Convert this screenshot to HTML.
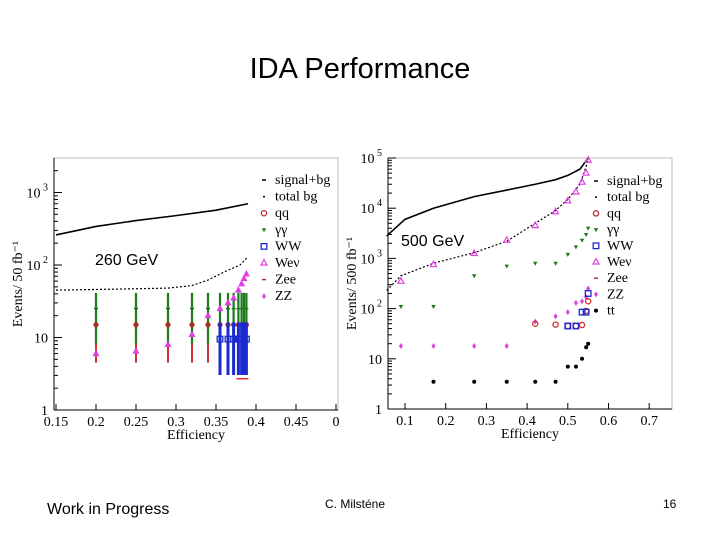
<!DOCTYPE html>
<html><head><meta charset="utf-8"><style>
body{margin:0;background:#fff;}
svg text{font-family:"Liberation Serif",serif;}
</style></head><body>
<svg width="720" height="540" viewBox="0 0 720 540" xmlns="http://www.w3.org/2000/svg">
<text x="360" y="78" text-anchor="middle" font-size="29" style="font-family:'Liberation Sans',sans-serif">IDA Performance</text>
<g id="left"></g>
<g id="right"></g>
<text x="47" y="514" font-size="16" style="font-family:'Liberation Sans',sans-serif">Work in Progress</text>
<text x="325" y="508" font-size="12" style="font-family:'Liberation Sans',sans-serif">C. Milsténe</text>
<text x="663" y="508" font-size="12" style="font-family:'Liberation Sans',sans-serif">16</text>
</svg>
<script>
// ---- 260 GeV data ----
const effL = [0.2,0.25,0.29,0.32,0.34,0.355,0.365,0.372,0.378,0.382,0.385,0.388];
const qqL = [15,15,15,15,15,15,15,15,15,15,15,15];
const ggL = [25,25,25,25,25,25,25,25,25,25,25,25];
const wevL = [6,6.5,8,11,20,25,30,35,45,55,65,75];
const wwEffL = [0.355,0.365,0.372,0.378,0.382,0.385,0.388];
const wwL = [9.5,9.5,9.5,9.5,9.5,9.5,9.5];
const zeeEffL = [0.378,0.382,0.385,0.388];
const zeeL = [2.7,2.7,2.7,2.7];
const sigEffL = [0.15,0.2,0.25,0.3,0.35,0.39];
const sigL = [260,340,410,480,570,700];
const bgEffL = [0.15,0.2,0.25,0.29,0.32,0.34,0.36,0.38,0.39];
const bgL = [45,46,47,48,52,62,80,100,130];
const xTicksL = [0.15,0.2,0.25,0.3,0.35,0.4,0.45,0.5];
const xTickLabelsL = ["0.15","0.2","0.25","0.3","0.35","0.4","0.45","0"];
// ---- 500 GeV data ----
const effR = [0.09,0.17,0.27,0.35,0.42,0.47,0.50,0.52,0.535,0.545,0.55];
const wevR = [350,750,1250,2300,4500,8500,14000,21000,33000,50000,90000];
const ggR = [110,110,450,700,800,800,1200,1700,2300,3000,4000];
const zzR = [18,18,18,18,55,70,85,130,140,170,250];
const ttEffR = [0.17,0.27,0.35,0.42,0.47,0.50,0.52,0.535,0.545,0.55];
const ttR = [3.5,3.5,3.5,3.5,3.5,7,7,10,17,20];
const qqEffR = [0.42,0.47,0.50,0.52,0.535,0.545,0.55];
const qqR = [50,48,45,45,47,90,140];
const wwEffR = [0.50,0.52,0.535,0.545,0.55];
const wwR = [45,45,85,85,200];
const sigEffR = [0.055,0.1,0.17,0.27,0.35,0.42,0.47,0.5,0.53,0.55];
const sigR = [2800,6000,10000,17000,23000,30000,37000,45000,60000,100000];
const bgEffR = [0.055,0.09,0.17,0.27,0.35,0.42,0.47,0.5,0.53,0.55];
const bgR = [230,450,800,1300,2200,5000,9000,15000,30000,90000];
const xTicksR = [0.1,0.2,0.3,0.4,0.5,0.6,0.7];
const xTickLabelsR = ["0.1","0.2","0.3","0.4","0.5","0.6","0.7"];

const NS="http://www.w3.org/2000/svg";
function mk(parent,tag,attrs,txt){const e=document.createElementNS(NS,tag);for(const k in attrs)e.setAttribute(k,attrs[k]);if(txt!==undefined)e.textContent=txt;parent.appendChild(e);return e;}

function axes(g,cfg){
  const {x0,x1,y0,y1,sx,sy,decades,yLab,xt,xtl}=cfg;
  let fr=mk(g,'rect',{x:x0,y:y0,width:x1-x0,height:y1-y0,fill:'none',stroke:'#bbb','stroke-width':1});
  
  
  mk(g,'line',{x1:x0,y1:y0,x2:x0,y2:y1,stroke:'#000','stroke-width':1});
  mk(g,'line',{x1:x0,y1:y1,x2:x1,y2:y1,stroke:'#000','stroke-width':1});
  xt.forEach((v,i)=>{const X=sx(v);
    mk(g,'line',{x1:X,y1:y1,x2:X,y2:y1-6,stroke:'#000'});
    const t=mk(g,'text',{x:X,y:y1+16,'text-anchor':'middle','font-size':14},xtl[i]);
    
    
  });
  for(let d=0;d<=decades;d++){
    for(let m=1;m<10;m++){const v=Math.pow(10,d)*m;const Y=sy(v);if(Y<y0)break;
      mk(g,'line',{x1:x0,y1:Y,x2:x0+(m==1?8:4),y2:Y,stroke:'#000'});}
    const Y=sy(Math.pow(10,d)); if(Y<y0-2)continue;
    const lab=d==0?'1':'10';
    const t=mk(g,'text',{x:x0-6,y:Y+5,'text-anchor':'end','font-size':14},lab);
    
    
    if(d>=2){mk(t,'tspan',{dy:-7,'font-size':10},' '+d);}
  }
  const xl=mk(g,'text',{x:(x0+x1)/2,y:y1+29,'text-anchor':'middle','font-size':14},'Efficiency');
  
  
  const yl=mk(g,'text',{x:0,y:0,'text-anchor':'middle','font-size':14,transform:`translate(${x0-32},${(y0+y1)/2}) rotate(-90)`},yLab);
  
  
}
function line(g,sx,sy,xs,ys,dash,name){
  const p=mk(g,'polyline',{points:xs.map((x,i)=>sx(x)+','+sy(ys[i])).join(' '),fill:'none',stroke:'#000','stroke-width':dash?1.2:1.6,'stroke-dasharray':dash?'2,2':'none'});
  
  
}
function marker(g,X,Y,type,color){
  if(type=='circle')return mk(g,'circle',{cx:X,cy:Y,r:2.6,fill:'none',stroke:color,'stroke-width':1.3});
  if(type=='dotc')return mk(g,'circle',{cx:X,cy:Y,r:2.6,fill:color});
  if(type=='tri')return mk(g,'polygon',{points:`${X},${Y-4} ${X-3.5},${Y+2.5} ${X+3.5},${Y+2.5}`,fill:color});
  if(type=='otri')return mk(g,'polygon',{points:`${X},${Y-3.5} ${X-3},${Y+2} ${X+3},${Y+2}`,fill:'none',stroke:color,'stroke-width':1.2});
  if(type=='dtri')return mk(g,'polygon',{points:`${X},${Y+2.5} ${X-2.2},${Y-1.5} ${X+2.2},${Y-1.5}`,fill:color});
  if(type=='sq')return mk(g,'rect',{x:X-2.8,y:Y-2.8,width:5.6,height:5.6,fill:'none',stroke:color,'stroke-width':1.3});
  if(type=='dot')return mk(g,'circle',{cx:X,cy:Y,r:2,fill:color});
  if(type=='zz')return mk(g,'polygon',{points:`${X},${Y-3} ${X-2},${Y} ${X},${Y+3} ${X+2},${Y}`,fill:color});
  if(type=='dash')return mk(g,'line',{x1:X-2,y1:Y,x2:X+2,y2:Y,stroke:color,'stroke-width':1.5});
  if(type=='none')return mk(g,'g',{});
}
function series(g,sx,sy,xs,ys,type,color,name,err){
  xs.forEach((x,i)=>{
    const X=sx(x),Y=sy(ys[i]);
    if(err){const e=mk(g,'line',{x1:X,y1:sy(ys[i]*err[0]),x2:X,y2:sy(ys[i]*err[1]),stroke:color,'stroke-width':err[2]});
      
      }
    const m=marker(g,X,Y,type,color);
    
    
  });
}
function legend(g,x,y,dy,items){
  items.forEach((it,i)=>{
    const Y=y+i*dy;
    if(it[1]=='solid'){mk(g,'line',{x1:x,y1:Y-4,x2:x+4,y2:Y-4,stroke:'#000','stroke-width':1.5});}
    else if(it[1]=='dashd'){mk(g,'line',{x1:x+1,y1:Y-4,x2:x+3,y2:Y-4,stroke:'#000','stroke-width':1.5});}
    else marker(g,x+2,Y-4,it[1],it[2]);
    const t=mk(g,'text',{x:x+13,y:Y,'font-size':14},it[0]);
    
    
  });
}

// Left chart
(function(){
  const g=document.getElementById('left');
  const x0=54,x1=338,y0=158,y1=410;
  const sx=e=>56+(e-0.15)*800;
  const sy=v=>410-Math.log10(v)*72.5;
  axes(g,{x0,x1,y0,y1,sx,sy,decades:3,yLab:'Events/ 50 fb\u207B\u00B9',xt:xTicksL,xtl:xTickLabelsL});
  line(g,sx,sy,sigEffL,sigL,false,'signal-plus-bg-line');
  line(g,sx,sy,bgEffL,bgL,true,'total-bg-line');
  series(g,sx,sy,effL,qqL,'none','#d03030','qq-range',[0.3,1,2]);
  series(g,sx,sy,effL,ggL,'dash','#1a7a1a','gamma-gamma',[0.33,1.65,2.2]);
  series(g,sx,sy,effL,qqL,'dotc','#b03020','qq',null);
  series(g,sx,sy,wwEffL,wwL,'sq','#1a2ad0','ww',[0.32,1.7,3]);
  series(g,sx,sy,effL,wevL,'tri','#e040e0','wev',null);
  series(g,sx,sy,zeeEffL,zeeL,'dash','#e03030','zee',null);
  const t=mk(g,'text',{x:95,y:265,'font-size':16,style:"font-family:'Liberation Sans',sans-serif"},'260 GeV');
  
  
  legend(g,262,184,16.6,[['signal+bg','solid'],['total bg','dashd'],['qq','circle','#c03030'],['\u03B3\u03B3','dtri','#1a7a1a'],['WW','sq','#1a2ad0'],['We\u03BD','otri','#e040e0'],['Zee','dash','#c03030'],['ZZ','zz','#e040e0']]);
})();

// Right chart
(function(){
  const g=document.getElementById('right');
  const x0=388,x1=672,y0=158,y1=409;
  const sx=e=>405+(e-0.1)*407;
  const sy=v=>409-Math.log10(v)*50.2;
  axes(g,{x0,x1,y0,y1,sx,sy,decades:5,yLab:'Events/ 500 fb\u207B\u00B9',xt:xTicksR,xtl:xTickLabelsR});
  line(g,sx,sy,sigEffR,sigR,false,'signal-plus-bg-line');
  line(g,sx,sy,bgEffR,bgR,true,'total-bg-line');
  series(g,sx,sy,effR,wevR,'otri','#e040e0','wev',null);
  series(g,sx,sy,effR,ggR,'dtri','#1a7a1a','gamma-gamma',null);
  series(g,sx,sy,effR,zzR,'zz','#e040e0','zz',null);
  series(g,sx,sy,qqEffR,qqR,'circle','#d03030','qq',null);
  series(g,sx,sy,wwEffR,wwR,'sq','#1a2ad0','ww',null);
  series(g,sx,sy,ttEffR,ttR,'dot','#000','tt',null);
  const t=mk(g,'text',{x:401,y:246,'font-size':16,style:"font-family:'Liberation Sans',sans-serif"},'500 GeV');
  
  
  legend(g,594,185,16.2,[['signal+bg','solid'],['total bg','dashd'],['qq','circle','#c03030'],['\u03B3\u03B3','dtri','#1a7a1a'],['WW','sq','#1a2ad0'],['We\u03BD','otri','#e040e0'],['Zee','dash','#c03030'],['ZZ','zz','#e040e0'],['tt','dot','#000']]);
})();
</script>
</body></html>
